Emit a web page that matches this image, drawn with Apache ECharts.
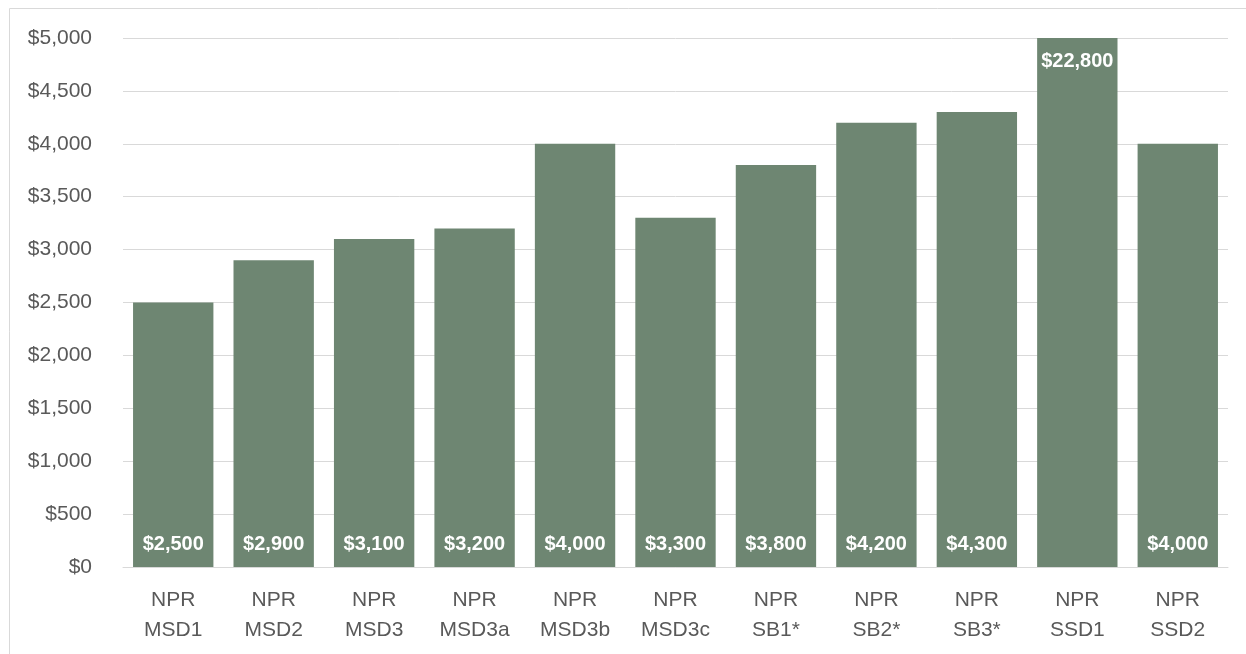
<!DOCTYPE html>
<html>
<head>
<meta charset="utf-8">
<style>
  html, body { margin: 0; padding: 0; background: #fff; }
  #cost_bar { width: 1246px; height: 654px; }
</style>
<script src="https://cdn.jsdelivr.net/npm/echarts@6/dist/echarts.min.js"></script>
</head>
<body>
<div id="cost_bar"></div>
<script type="text/javascript">
    // categories and values
    var categories = ['NPR\nMSD1', 'NPR\nMSD2', 'NPR\nMSD3', 'NPR\nMSD3a', 'NPR\nMSD3b', 'NPR\nMSD3c',
                      'NPR\nSB1*', 'NPR\nSB2*', 'NPR\nSB3*', 'NPR\nSSD1', 'NPR\nSSD2'];
    var costs = [2500, 2900, 3100, 3200, 4000, 3300, 3800, 4200, 4300, 22800, 4000];
    var axisMax = 5000;
    var axisStep = 500;

    function money(v) {
        return '$' + v.toString().replace(/\B(?=(\d{3})+(?!\d))/g, ',');
    }

    var barData = costs.map(function (v) {
        var item = { value: v };
        // the bar that runs off the top gets its label at the top
        if (v > axisMax) {
            item.label = { position: 'insideTop' };
        }
        return item;
    });

    var chart = echarts.init(document.getElementById('cost_bar'));
    chart.setOption({
        animation: false,
        graphic: [{
            type: 'rect',
            shape: { x: 9.5, y: 8.5, width: 1400, height: 800 },
            style: { fill: 'none', stroke: '#d9d9d9', lineWidth: 1 },
            silent: true
        }],
        grid: { left: 123, right: 18, top: 38, bottom: 87 },
        xAxis: {
            type: 'category',
            data: categories,
            axisLine: { lineStyle: { color: '#d9d9d9', width: 1 } },
            axisTick: { show: false },
            axisLabel: {
                color: '#595959',
                fontFamily: 'Liberation Sans, Arial, sans-serif',
                fontSize: 21,
                lineHeight: 30,
                margin: 18,
                interval: 0
            }
        },
        yAxis: {
            type: 'value',
            min: 0,
            max: axisMax,
            interval: axisStep,
            axisLine: { show: false },
            axisTick: { show: false },
            splitLine: { lineStyle: { color: '#d9d9d9', width: 1 } },
            axisLabel: {
                color: '#595959',
                fontFamily: 'Liberation Sans, Arial, sans-serif',
                fontSize: 21,
                margin: 31,
                formatter: money
            }
        },
        series: [{
            type: 'bar',
            data: barData,
            barCategoryGap: '20%',
            clip: true,
            itemStyle: { color: '#6e8672' },
            label: {
                show: true,
                position: 'insideBottom',
                distance: 13,
                color: '#ffffff',
                fontWeight: 'bold',
                fontFamily: 'Liberation Sans Narrow, Arial Narrow, Liberation Sans, sans-serif',
                fontSize: 20,
                formatter: function (p) { return money(p.value); }
            }
        }]
    });
</script>
</body>
</html>
